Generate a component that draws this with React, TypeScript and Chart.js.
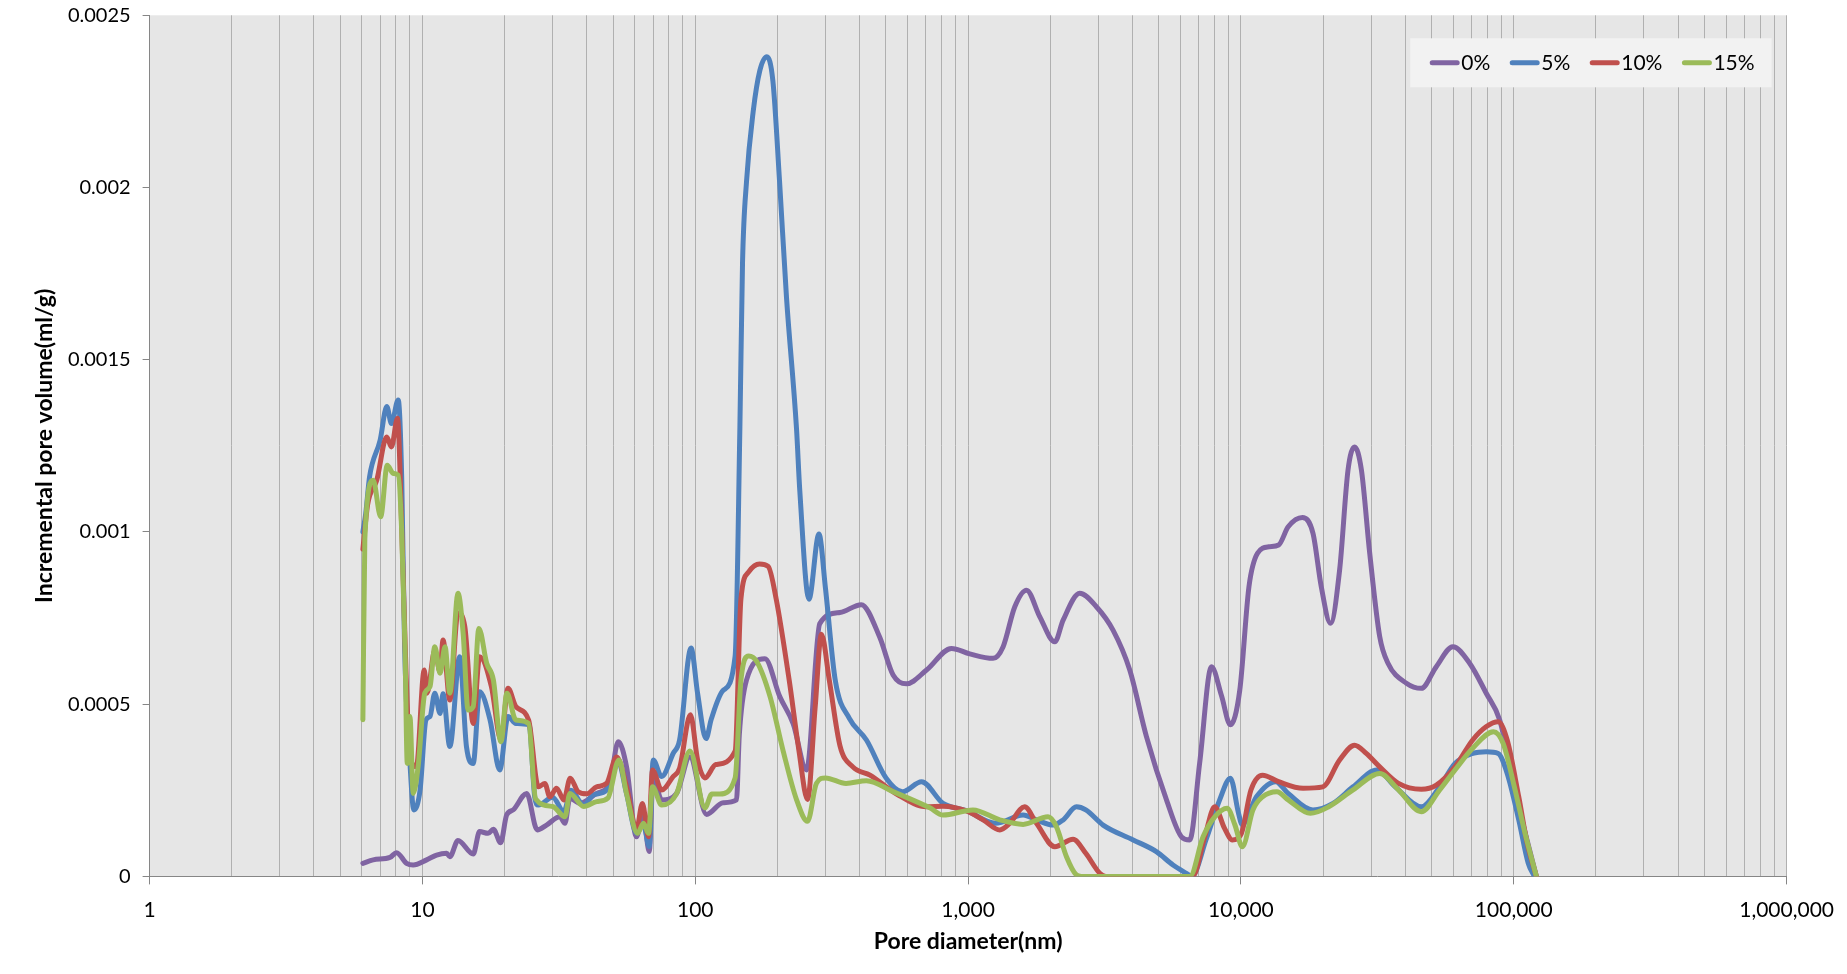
import React, { useEffect, useRef } from 'react';
import { Chart, registerables } from 'chart.js';

Chart.register(...registerables);

// ---------- data ----------
const seriesNames = ['0%', '5%', '10%', '15%'];
const seriesColors = ['#8064A2', '#4F81BD', '#C0504D', '#9BBB59'];

const x0 = [6.05, 6.6, 7.6, 8.04, 8.75, 9.25, 10.36, 11.27, 12.27, 12.6, 13.5, 15.35, 16.2, 17.4, 18.2, 19.35, 20.35, 21.5, 24.1, 26.35, 28.5, 31.9, 33.3, 34.7, 37.8, 43.5, 48.6, 52.2, 56, 60.9, 64.4, 67.8, 70.1, 75.3, 85.4, 95.5, 110, 126.5, 141.6, 145, 154, 180, 204, 228.6, 255.8, 286, 339, 406, 474, 531, 594, 704, 869, 1014, 1235, 1344, 1483, 1637, 1831, 2079, 2230, 2566, 2953, 3398, 3913, 4505, 5335, 6053, 6490, 7060, 7800, 8484, 9145, 9900, 10700, 11500, 12670, 13740, 14900, 16800, 18370, 19700, 21300, 23000, 24690, 26100, 27640, 29650, 32260, 34590, 40400, 45830, 52000, 59800, 68900, 79360, 88800, 101700, 112300, 121000];
const y0 = [0.000038, 0.000048, 0.000055, 0.000069, 0.000038, 0.000033, 0.000048, 0.000062, 0.000067, 0.000057, 0.000104, 0.000065, 0.00013, 0.000125, 0.000137, 0.000098, 0.000178, 0.000193, 0.000241, 0.000135, 0.000149, 0.000173, 0.000154, 0.000227, 0.000212, 0.000241, 0.00027, 0.000391, 0.000318, 0.000115, 0.000183, 0.000072, 0.000289, 0.000222, 0.000241, 0.000347, 0.000180, 0.000214, 0.000222, 0.00041, 0.000569, 0.000632, 0.000522, 0.000443, 0.000309, 0.000734, 0.000766, 0.000789, 0.000695, 0.000585, 0.000559, 0.000599, 0.000662, 0.000646, 0.000633, 0.000667, 0.000783, 0.000831, 0.000754, 0.000681, 0.000744, 0.000822, 0.000783, 0.000715, 0.000599, 0.000406, 0.000222, 0.000115, 0.000106, 0.00033, 0.000609, 0.000525, 0.00044, 0.00054, 0.000841, 0.000938, 0.000957, 0.000962, 0.001015, 0.001042, 0.000996, 0.000841, 0.000735, 0.00089, 0.00118, 0.001247, 0.00118, 0.000938, 0.000696, 0.000619, 0.000561, 0.000546, 0.000609, 0.000667, 0.000619, 0.000531, 0.000454, 0.00024, 0.0001, 0];

const x5 = [6.05, 6.2, 6.4, 7.0, 7.4, 7.7, 8.15, 8.4, 8.6, 9.0, 9.3, 9.8, 10.3, 10.66, 11.1, 11.6, 11.9, 12.6, 13.7, 14.5, 15.35, 16.2, 17.7, 19.2, 20.6, 22, 24.6, 25.8, 26.6, 30, 33, 35, 39, 42.2, 47.3, 52, 56, 61, 64.4, 67.8, 70.1, 75.3, 83, 87.6, 96.5, 102, 109.5, 114.5, 126.5, 140, 145.7, 149, 154.2, 163, 172.5, 183, 192.5, 203.6, 216, 235, 241.6, 261, 284, 300, 326, 367, 424, 500, 575, 675, 809, 986, 1260, 1591, 1781, 2049, 2230, 2495, 2700, 3125, 4027, 4897, 5637, 6310, 6600, 7475, 8356, 9150, 9800, 10100, 11400, 13400, 14900, 18370, 21750, 25750, 31500, 36800, 45830, 53500, 60900, 70700, 79360, 87700, 94600, 104300, 113000, 119000];
const y5 = [0.001, 0.001055, 0.00116, 0.001267, 0.001364, 0.001315, 0.001383, 0.00115, 0.00067, 0.00033, 0.000193, 0.00025, 0.000454, 0.000464, 0.000532, 0.000473, 0.00053, 0.000377, 0.000638, 0.000377, 0.000328, 0.000536, 0.000454, 0.000309, 0.000464, 0.000444, 0.00044, 0.00023, 0.000207, 0.00023, 0.000188, 0.00025, 0.000207, 0.000236, 0.00025, 0.000338, 0.00024, 0.000125, 0.000154, 0.000087, 0.000338, 0.00029, 0.000357, 0.000396, 0.000663, 0.000531, 0.0004, 0.000457, 0.00054, 0.00064, 0.0013, 0.00178, 0.00202, 0.00222, 0.00234, 0.00238, 0.00231, 0.00202, 0.00168, 0.0013, 0.00112, 0.000805, 0.000994, 0.000837, 0.000569, 0.000459, 0.000396, 0.000286, 0.000246, 0.000275, 0.000212, 0.000191, 0.000154, 0.000178, 0.000164, 0.000149, 0.000164, 0.000202, 0.000193, 0.000149, 0.000106, 0.000072, 0.000033, 0.000009, 0, 0.00011, 0.000222, 0.000285, 0.000183, 0.00015, 0.000231, 0.000275, 0.000241, 0.000193, 0.000212, 0.00026, 0.000309, 0.00026, 0.000202, 0.00026, 0.000328, 0.000357, 0.000362, 0.000357, 0.000299, 0.000164, 0.000038, 0];

const x10 = [6.05, 6.3, 6.8, 7.4, 7.7, 8.1, 8.4, 8.7, 9.0, 9.5, 10.15, 10.4, 11.1, 11.6, 11.9, 12.6, 13.5, 14.3, 15.35, 16.2, 17.9, 19.4, 20.6, 22, 24.5, 26.6, 28.1, 29.3, 31, 33, 34.8, 37.2, 40, 43.5, 47.3, 51.5, 56, 60.9, 64, 67.4, 69.7, 75.3, 83, 87.6, 96, 102, 108.5, 119, 140, 147, 157, 172, 185, 198, 221, 240, 258, 275, 290, 310, 339, 378, 437, 547, 704, 809, 986, 1135, 1307, 1420, 1610, 1781, 2079, 2425, 2700, 3038, 3200, 5000, 6650, 7370, 8017, 8700, 9300, 10040, 10880, 12000, 13740, 16900, 19950, 23000, 26100, 28800, 32260, 37800, 45830, 52000, 60900, 70700, 79360, 87700, 94600, 104300, 112000, 121000];
const y10 = [0.00095, 0.00108, 0.00115, 0.001276, 0.001247, 0.00133, 0.001006, 0.0006, 0.00035, 0.000318, 0.000599, 0.000532, 0.000657, 0.000594, 0.000686, 0.000512, 0.000765, 0.000725, 0.000444, 0.000638, 0.000551, 0.000396, 0.000546, 0.000493, 0.000454, 0.00026, 0.00027, 0.000231, 0.000256, 0.000222, 0.000285, 0.000246, 0.00024, 0.00026, 0.00027, 0.000347, 0.00026, 0.000135, 0.000212, 0.000115, 0.000309, 0.000251, 0.00029, 0.000314, 0.000469, 0.000338, 0.000286, 0.000325, 0.000364, 0.000805, 0.000884, 0.000907, 0.0009, 0.000805, 0.000569, 0.000364, 0.000223, 0.00049, 0.000703, 0.000569, 0.00038, 0.000318, 0.000294, 0.000239, 0.000202, 0.000204, 0.00019, 0.000164, 0.000135, 0.000154, 0.000202, 0.000154, 0.000086, 0.000108, 0.000067, 0.000009, 0, 0, 0, 0.000115, 0.000202, 0.00014, 0.000106, 0.000125, 0.000251, 0.000294, 0.000275, 0.000256, 0.00026, 0.000338, 0.000381, 0.000357, 0.000318, 0.00027, 0.000253, 0.000265, 0.000318, 0.000396, 0.000435, 0.000449, 0.000396, 0.000231, 0.000096, 0];

const x15 = [6.05, 6.15, 6.6, 7.03, 7.43, 7.82, 8.15, 8.39, 8.63, 8.8, 9.0, 9.25, 9.64, 10.2, 10.66, 11.1, 11.6, 12.1, 12.6, 13.5, 14.1, 14.7, 15.35, 16.1, 17.2, 18.2, 19.4, 20.4, 22, 24.5, 26, 30, 33.3, 34.7, 39, 43.5, 47.8, 52.5, 56, 61.4, 64.6, 67.4, 69.7, 75.3, 85.4, 95.6, 108.5, 115, 123, 140, 147, 157, 168, 188, 210, 235, 258, 278, 300, 357, 424, 531, 724, 809, 1041, 1307, 1591, 1963, 2108, 2294, 2495, 2600, 4500, 6500, 7265, 8017, 8900, 9500, 10120, 11060, 12000, 13550, 14900, 17970, 20980, 25750, 32260, 37800, 45830, 53500, 60900, 70700, 84300, 91400, 100500, 110000, 121000];
const y15 = [0.000455, 0.00098, 0.00115, 0.001044, 0.001194, 0.00117, 0.001165, 0.001006, 0.000667, 0.000328, 0.000464, 0.000241, 0.000318, 0.000532, 0.000551, 0.000667, 0.00059, 0.000667, 0.000532, 0.000822, 0.000706, 0.000483, 0.000493, 0.00072, 0.000619, 0.00057, 0.000391, 0.000532, 0.000454, 0.000444, 0.000225, 0.000203, 0.000173, 0.000241, 0.000203, 0.000217, 0.000227, 0.000338, 0.00024, 0.000125, 0.000154, 0.000125, 0.00026, 0.000207, 0.00024, 0.000364, 0.000199, 0.000239, 0.000239, 0.000286, 0.000569, 0.00064, 0.000624, 0.000522, 0.000364, 0.000223, 0.00016, 0.00027, 0.000286, 0.00027, 0.000278, 0.000246, 0.000199, 0.000178, 0.000193, 0.000164, 0.000151, 0.000173, 0.000144, 0.000057, 0.000004, 0, 0, 0, 0.000115, 0.000173, 0.000198, 0.00015, 0.000086, 0.000193, 0.000231, 0.000246, 0.000222, 0.000183, 0.000202, 0.000251, 0.000299, 0.000251, 0.000188, 0.000251, 0.000309, 0.000372, 0.00042, 0.000386, 0.00026, 0.000125, 0];

const seriesX = [x0, x5, x10, x15];
const seriesY = [y0, y5, y10, y15];

const xMajorTicks = [1, 10, 100, 1000, 10000, 100000, 1000000];
const xMinorMultipliers = [2, 3, 4, 5, 6, 7, 8, 9];
const yTicks = [0, 0.0005, 0.001, 0.0015, 0.002, 0.0025];

const xTitle = 'Pore diameter(nm)';
const yTitle = 'Incremental pore volume(ml/g)';

// ---------- helpers ----------
const FONT = 'Lato';
const xGridValues: number[] = [];
xMajorTicks.forEach((m, i) => {
  xGridValues.push(m);
  if (i < xMajorTicks.length - 1) xMinorMultipliers.forEach((k) => xGridValues.push(m * k));
});
const isDecade = (v: any) => typeof v === 'number' && xMajorTicks.some((m) => Math.abs(m - v) < 1e-6 * m);

const bgPlugin = {
  id: 'plotBg',
  beforeDraw(chart: any) {
    const { ctx, chartArea } = chart;
    ctx.save();
    ctx.fillStyle = '#e6e6e6';
    ctx.fillRect(chartArea.left, chartArea.top, chartArea.right - chartArea.left, chartArea.bottom - chartArea.top);
    ctx.restore();
  },
};

const legendPlugin = {
  id: 'insideLegend',
  afterDraw(chart: any) {
    const { ctx, chartArea } = chart;
    ctx.save();
    ctx.font = `21px ${FONT}`;
    const lineLen = 29;
    const gapLT = 2;
    const gapItem = 20;
    const padL = 20;
    const padR = 17;
    const widths = seriesNames.map((n) => ctx.measureText(n).width);
    let total = padL + padR;
    widths.forEach((w, i) => {
      total += lineLen + gapLT + w + (i < widths.length - 1 ? gapItem : 0);
    });
    const boxRight = chartArea.right - 15;
    const boxLeft = boxRight - total;
    const boxTop = chartArea.top + 23;
    const boxH = 49;
    ctx.fillStyle = '#f2f2f2';
    ctx.fillRect(boxLeft, boxTop, total, boxH);
    let x = boxLeft + padL;
    const cy = boxTop + boxH / 2;
    seriesNames.forEach((n, i) => {
      ctx.strokeStyle = seriesColors[i];
      ctx.lineWidth = 5;
      ctx.lineCap = 'round';
      ctx.beginPath();
      ctx.moveTo(x + 2, cy);
      ctx.lineTo(x + lineLen - 2, cy);
      ctx.stroke();
      x += lineLen + gapLT;
      ctx.fillStyle = '#000';
      ctx.textBaseline = 'middle';
      ctx.textAlign = 'left';
      ctx.fillText(n, x, cy);
      x += widths[i] + gapItem;
    });
    ctx.restore();
  },
};

export default function App() {
  const ref = useRef<HTMLCanvasElement>(null);
  useEffect(() => {
    document.body.style.margin = '0';
    const canvas = ref.current;
    if (!canvas) return;
    const datasets = seriesNames.map((name, i) => ({
      label: name,
      data: seriesX[i].map((x, j) => ({ x, y: seriesY[i][j] })),
      borderColor: seriesColors[i],
      backgroundColor: seriesColors[i],
      borderWidth: 5,
      borderCapStyle: 'round' as const,
      borderJoinStyle: 'round' as const,
      pointRadius: 0,
      pointHoverRadius: 0,
      fill: false,
      cubicInterpolationMode: 'monotone' as const,
      order: seriesNames.length - i,
    }));
    const chart = new Chart(canvas, {
      type: 'line',
      data: { datasets },
      plugins: [bgPlugin, legendPlugin],
      options: {
        animation: false,
        responsive: false,
        devicePixelRatio: 1,
        layout: { padding: { left: 0, top: 15.3, right: 60.2, bottom: 0 } },
        plugins: { legend: { display: false }, tooltip: { enabled: false } },
        scales: {
          x: {
            type: 'logarithmic',
            min: 1,
            max: 1000000,
            afterBuildTicks: (scale: any) => {
              scale.ticks = xGridValues.map((v) => ({ value: v }));
            },
            afterFit: (scale: any) => {
              scale.height = 97.6;
            },
            ticks: {
              autoSkip: false,
              maxRotation: 0,
              minRotation: 0,
              padding: 13,
              color: '#000',
              font: { family: FONT, size: 21 },
              callback: (v: any) => (isDecade(Number(v)) ? Number(v).toLocaleString('en-US') : ''),
            },
            grid: {
              color: '#b0b0b0',
              lineWidth: 1,
              drawTicks: true,
              tickLength: 8,
              tickColor: (c: any) => (c.tick && isDecade(c.tick.value) ? '#868686' : 'rgba(0,0,0,0)'),
            },
            border: { display: true, color: '#868686', width: 1 },
            title: {
              display: true,
              text: xTitle,
              color: '#000',
              font: { family: FONT, size: 23, weight: 'bold' },
              padding: { top: 0, bottom: 19 },
            },
          },
          y: {
            type: 'linear',
            min: 0,
            max: 0.0025,
            afterBuildTicks: (scale: any) => {
              scale.ticks = yTicks.map((v) => ({ value: v }));
            },
            afterFit: (scale: any) => {
              scale.width = 149.6;
              scale.paddingTop = 0;
              scale.paddingBottom = 0;
            },
            ticks: {
              padding: 12,
              color: '#000',
              font: { family: FONT, size: 20 },
              callback: (v: any) => String(v),
            },
            grid: { drawOnChartArea: false, drawTicks: true, tickLength: 7, color: '#868686' },
            border: { display: true, color: '#868686', width: 1 },
            title: {
              display: true,
              text: yTitle,
              color: '#000',
              font: { family: FONT, size: 23, weight: 'bold' },
              padding: { top: 31, bottom: 0 },
            },
          },
        },
      },
    } as any);
    if ((document as any).fonts && (document as any).fonts.ready) {
      (document as any).fonts.ready.then(() => {
        try { chart.update(); } catch (e) { /* destroyed */ }
      });
    }
    return () => chart.destroy();
  }, []);
  return (
    <div style={{ width: 1847, height: 974 }}>
      <canvas ref={ref} width={1847} height={974} style={{ display: 'block', width: 1847, height: 974 }} />
    </div>
  );
}
